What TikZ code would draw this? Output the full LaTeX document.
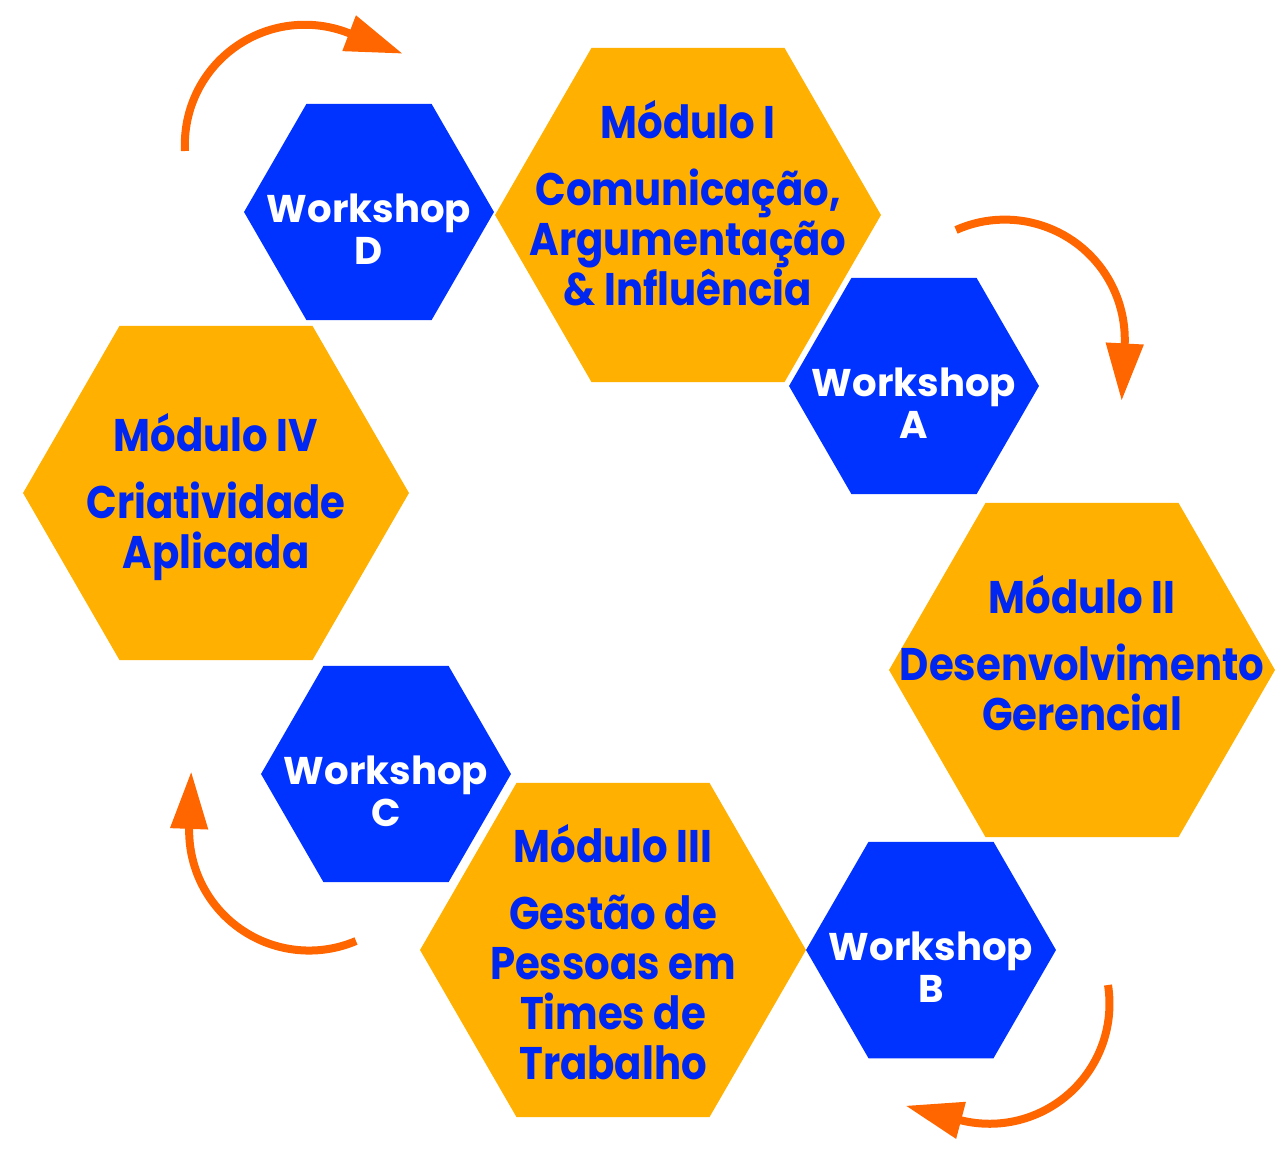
\documentclass[tikz,border=0pt]{standalone}
\usepackage{fontspec}
\setmainfont{Poppins}
\newfontfamily\modfont[FakeStretch=0.88]{Poppins}
\usetikzlibrary{shapes.geometric,arrows.meta}
\definecolor{hexorange}{HTML}{FFB000}
\definecolor{hexblue}{HTML}{0033FF}
\definecolor{txtblue}{HTML}{0026F2}
\definecolor{arroworange}{HTML}{FF6600}
\begin{document}
\begin{tikzpicture}[x=0.02cm, y=-0.02cm,
    modhex/.style={regular polygon, regular polygon sides=6, minimum size=7.72cm, inner sep=0pt, outer sep=0pt, fill=hexorange},
    wshex/.style={regular polygon, regular polygon sides=6, minimum size=5cm, inner sep=0pt, outer sep=0pt, fill=hexblue},
    modtxt/.style={align=center, text=txtblue, inner sep=0pt, font=\modfont\bfseries\fontsize{26}{28.45}\selectfont},
    wstxt/.style={align=center, text=white, inner sep=0pt, font=\bfseries\fontsize{22}{24}\selectfont},
    turn/.style={-{Triangle[length=1.15cm, width=0.72cm]}, line width=0.16cm, color=arroworange}
]
\useasboundingbox (0,0) rectangle (1277,1150);

\node[modhex] (m1) at (688,215) {};
\node[modhex] (m2) at (1082,670) {};
\node[modhex] (m3) at (613,950) {};
\node[modhex] (m4) at (216,493) {};

\node[wshex] (wa) at (914,386) {};
\node[wshex] (wb) at (931,950) {};
\node[wshex] (wc) at (386,774) {};
\node[wshex] (wd) at (369,212) {};

\node[modtxt] (t1) at (688,203) {Módulo I\\[0.34cm]Comunicação,\\Argumentação\\\& Influência};
\node[modtxt] (t2) at (1082,653) {Módulo II\\[0.34cm]Desenvolvimento\\Gerencial};
\node[modtxt] (t3) at (613,952) {Módulo III\\[0.34cm]Gestão de\\Pessoas em\\Times de\\Trabalho};
\node[modtxt] (t4) at (216,497) {Módulo IV\\[0.34cm]Criatividade\\Aplicada};

\node[wstxt] (ta) at (914,403) {Workshop\\A};
\node[wstxt] (tb) at (931,967) {Workshop\\B};
\node[wstxt] (tc) at (386,791) {Workshop\\C};
\node[wstxt] (td) at (369,229) {Workshop\\D};

\coordinate (a1) at (185,151);
\coordinate (a2) at (956,230);
\coordinate (a3) at (1108,985);
\coordinate (a4) at (356,941);

\draw[turn] (a1) arc[start angle=183, end angle=69, radius=2.4cm] -- ++(55,21);
\draw[turn] (a2) arc[start angle=114, end angle=-3, radius=2.4cm] -- ++(-3,55);
\draw[turn] (a3) arc[start angle=9, end angle=-105, radius=2.4cm] -- ++(-53,-14);
\draw[turn] (a4) arc[start angle=-67, end angle=-182, radius=2.4cm] -- ++(2,-55);
\end{tikzpicture}
\end{document}
